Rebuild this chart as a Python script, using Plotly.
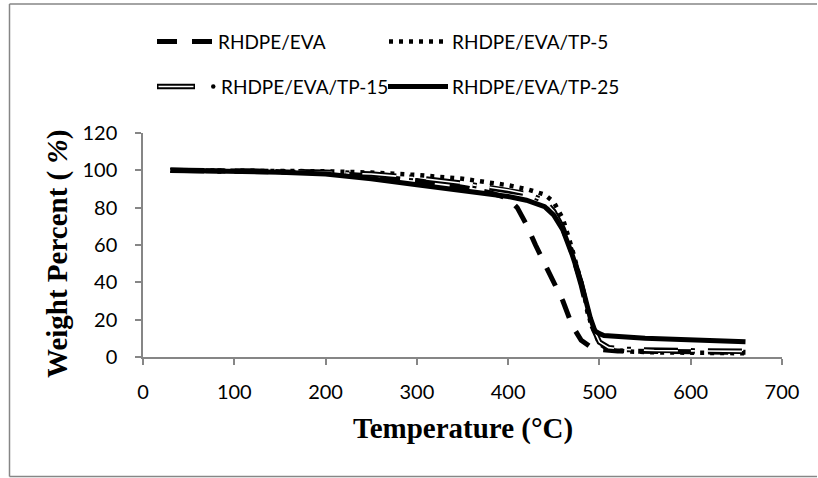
import plotly.graph_objects as go

# ---------------- data ----------------
t_eva = [30, 100, 150, 200, 250, 300, 350, 380, 400, 410, 420, 430, 440, 450, 460, 470, 480, 490, 500, 520, 560, 600, 660]
w_eva = [100, 99.8, 99.3, 98.5, 97, 94.5, 91, 88, 85, 80, 71, 60, 50, 40, 30, 17, 9, 5.5, 4, 3.2, 2.9, 2.7, 2.5]

t_tp5 = [30, 100, 150, 200, 250, 300, 350, 380, 400, 420, 440, 450, 460, 470, 480, 490, 500, 510, 530, 560, 600, 660]
w_tp5 = [100, 100, 99.8, 99.5, 98.8, 97.5, 95.5, 93.5, 92, 90, 87, 83, 74, 58, 40, 19, 7, 4, 3, 2.5, 2.3, 2.0]

t_tp15 = [30, 100, 150, 200, 250, 300, 350, 400, 420, 440, 450, 460, 470, 480, 490, 500, 510, 530, 560, 600, 660]
w_tp15 = [100, 99.8, 99.5, 99, 98, 96, 93, 89.5, 87.5, 83.5, 78, 69, 56, 39, 19, 8, 5, 4, 3.5, 3.3, 3.0]

t_tp25 = [30, 100, 150, 200, 250, 300, 350, 400, 420, 440, 450, 460, 470, 480, 490, 495, 500, 505, 550, 600, 660]
w_tp25 = [100, 99.5, 99, 98, 95.5, 92.3, 89, 86, 84, 80.5, 76, 68, 55, 40, 21, 14, 12.5, 11.5, 10, 9, 8.2]

series_names = ["RHDPE/EVA", "RHDPE/EVA/TP-5", "RHDPE/EVA/TP-15", "RHDPE/EVA/TP-25"]
x_ticks = [0, 100, 200, 300, 400, 500, 600, 700]
y_ticks = [0, 20, 40, 60, 80, 100, 120]

# ---------------- layout geometry (pixels) ----------------
W, H = 818, 478
L, R, T, B = 143, 782, 133, 357
PW, PH = R - L, B - T


def px(xp):
    return (xp - L) / PW


def py(yp):
    return (B - yp) / PH


AXIS = "#868686"
TEXTFONT = "Lato"

fig = go.Figure()

fig.add_trace(go.Scatter(x=t_eva, y=w_eva, mode="lines", name=series_names[0],
                         line=dict(color="black", width=5, dash="20px,15px"), showlegend=False))
fig.add_trace(go.Scatter(x=t_tp5, y=w_tp5, mode="lines", name=series_names[1],
                         line=dict(color="black", width=4.5, dash="4px,6px"), showlegend=False))
fig.add_trace(go.Scatter(x=t_tp15, y=w_tp15, mode="lines", name=series_names[2],
                         line=dict(color="black", width=5.5, dash="34px,13px,4px,13px"), showlegend=False))
fig.add_trace(go.Scatter(x=t_tp15, y=w_tp15, mode="lines", name=series_names[2] + " inner",
                         line=dict(color="white", width=1.6, dash="34px,13px,4px,13px"), showlegend=False,
                         hoverinfo="skip"))
fig.add_trace(go.Scatter(x=t_tp25, y=w_tp25, mode="lines", name=series_names[3],
                         line=dict(color="black", width=5), showlegend=False))

shapes = []
annotations = []

# outer chart border (left, top, bottom only), kept inside the page
for (x0, y0, x1, y1) in [(9.5, 4, 9.5, 476.5), (9.5, 4, 817, 4), (9.5, 476.5, 817, 476.5)]:
    shapes.append(dict(type="line", xref="paper", yref="paper",
                       x0=px(x0), x1=px(x1), y0=py(y0), y1=py(y1),
                       line=dict(color=AXIS, width=1.5), layer="below"))

# manual legend
row1, row2 = 41.5, 86.5
shapes.append(dict(type="line", xref="paper", yref="paper", x0=px(157), x1=px(212), y0=py(row1), y1=py(row1),
                   line=dict(color="black", width=5, dash="20px,15px")))
shapes.append(dict(type="line", xref="paper", yref="paper", x0=px(389), x1=px(444), y0=py(row1), y1=py(row1),
                   line=dict(color="black", width=4.5, dash="4px,6px")))
shapes.append(dict(type="line", xref="paper", yref="paper", x0=px(157), x1=px(195), y0=py(row2), y1=py(row2),
                   line=dict(color="black", width=5.5)))
shapes.append(dict(type="line", xref="paper", yref="paper", x0=px(158.5), x1=px(193.5), y0=py(row2), y1=py(row2),
                   line=dict(color="white", width=1.6)))
shapes.append(dict(type="circle", xref="paper", yref="paper", x0=px(211), x1=px(215.5), y0=py(row2 + 2.3), y1=py(row2 - 2.3),
                   line=dict(color="black", width=0), fillcolor="black"))
shapes.append(dict(type="line", xref="paper", yref="paper", x0=px(388), x1=px(448), y0=py(row2), y1=py(row2),
                   line=dict(color="black", width=5)))

leg_font = dict(family=TEXTFONT, size=19, color="black")
for name, xpos, ypos in [(series_names[0], 216, row1), (series_names[1], 450, row1),
                         (series_names[2], 219, row2), (series_names[3], 450, row2)]:
    annotations.append(dict(text=name, xref="paper", yref="paper", x=px(xpos), y=py(ypos),
                            xanchor="left", yanchor="middle", showarrow=False, font=leg_font))

# axis titles
title_font = dict(family="Liberation Serif", size=29, color="black")
annotations.append(dict(text="<b>Temperature (°C)</b>", xref="paper", yref="paper",
                        x=px(463), y=py(428), xanchor="center", yanchor="middle",
                        showarrow=False, font=title_font))
annotations.append(dict(text="<b>Weight Percent ( <i>%</i>)</b>", xref="paper", yref="paper",
                        x=px(57), y=py(254), xanchor="center", yanchor="middle", textangle=-90,
                        showarrow=False, font=title_font))

fig.update_layout(
    width=W, height=H,
    margin=dict(l=L, r=W - R, t=T, b=H - B),
    paper_bgcolor="white", plot_bgcolor="white",
    template="none",
    shapes=shapes, annotations=annotations,
    showlegend=False,
    font=dict(family=TEXTFONT, size=20, color="black"),
)
fig.update_xaxes(range=[0, 700], tickvals=x_ticks, ticktext=[str(v) for v in x_ticks],
                 showgrid=False, zeroline=False, showline=True, linecolor=AXIS, linewidth=1.5,
                 ticks="outside", ticklen=6, tickwidth=1.5, tickcolor=AXIS,
                 tickfont=dict(family=TEXTFONT, size=20, color="black"), ticklabelstandoff=10)
fig.update_yaxes(range=[0, 120], tickvals=y_ticks, ticktext=[str(v) for v in y_ticks],
                 showgrid=False, zeroline=False, showline=True, linecolor=AXIS, linewidth=1.5,
                 ticks="outside", ticklen=6, tickwidth=1.5, tickcolor=AXIS,
                 tickfont=dict(family=TEXTFONT, size=20, color="black"), ticklabelstandoff=14)

fig.write_html(
    "out.html",
    config={"displayModeBar": False},
    post_script="document.documentElement.style.overflow='hidden';"
                "document.body.style.margin='0';document.body.style.overflow='hidden';",
)
